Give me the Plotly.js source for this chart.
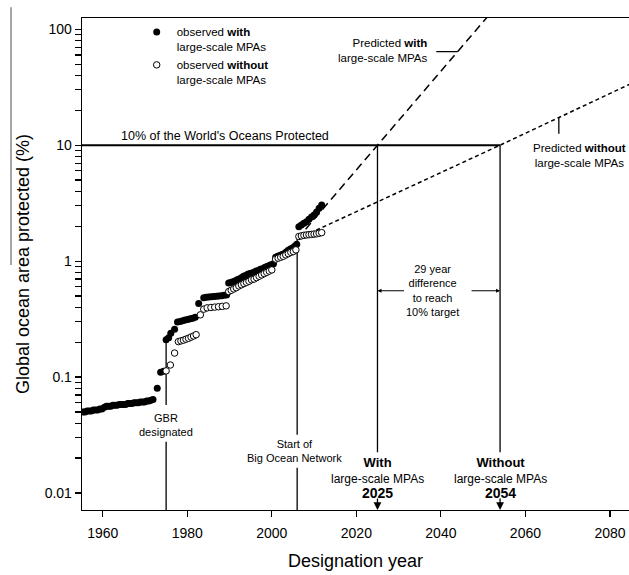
<!DOCTYPE html>
<html>
<head>
<meta charset="utf-8">
<script src="https://cdn.plot.ly/plotly-3.0.1.min.js"></script>
<style>html,body{margin:0;padding:0;background:#fff;}#chart{width:629px;height:575px;}</style>
</head>
<body>
<div id="chart"></div>
<script>
var withYears = [1955.3,1955.8,1956.3,1956.8,1957.3,1957.8,1958.3,1958.8,1959.3,1959.8,1960.4,1960.9,1961.4,1961.9,1962.4,1962.9,1963.4,1963.9,1964.4,1964.9,1965.4,1965.9,1966.4,1966.9,1967.4,1967.9,1968.4,1968.9,1969.4,1969.9,1970.4,1970.9,1971.4,1971.9,1972.9,1973.7,1974.4,1975.0,1975.6,1976.1,1977.0,1977.7,1978.3,1978.9,1979.5,1980.1,1980.7,1981.3,1981.9,1982.7,1983.9,1984.5,1985.1,1985.7,1986.3,1986.9,1987.5,1988.1,1988.7,1989.3,1989.8,1990.3,1990.8,1991.3,1991.8,1992.3,1992.8,1993.3,1993.8,1994.3,1994.8,1995.3,1995.8,1996.3,1996.8,1997.3,1997.8,1998.3,1998.8,1999.3,1999.8,2000.4,2000.9,2001.4,2001.9,2002.4,2002.9,2003.4,2003.9,2004.4,2004.9,2005.4,2005.9,2006.4,2007.0,2007.6,2008.2,2008.8,2009.4,2010.0,2010.6,2011.2,2011.8];
var withVals = [0.050,0.050,0.051,0.051,0.051,0.052,0.052,0.052,0.053,0.053,0.055,0.056,0.056,0.056,0.057,0.057,0.057,0.058,0.058,0.058,0.058,0.059,0.059,0.059,0.060,0.060,0.060,0.061,0.061,0.061,0.062,0.062,0.063,0.064,0.080,0.110,0.112,0.210,0.218,0.238,0.258,0.298,0.302,0.306,0.310,0.313,0.318,0.322,0.328,0.430,0.484,0.488,0.490,0.492,0.495,0.497,0.500,0.503,0.507,0.511,0.646,0.655,0.665,0.675,0.690,0.700,0.720,0.740,0.750,0.770,0.780,0.790,0.800,0.820,0.830,0.850,0.860,0.880,0.900,0.910,0.930,0.950,1.08,1.10,1.12,1.14,1.16,1.20,1.24,1.27,1.30,1.34,1.40,1.98,2.05,2.12,2.18,2.30,2.40,2.50,2.65,2.85,3.05];

var withoutYears = [1975.0,1976.0,1977.0,1977.9,1978.5,1979.1,1979.7,1980.3,1980.9,1981.5,1982.1,1983.1,1983.9,1984.7,1985.6,1986.5,1987.4,1988.3,1989.2,1989.8,1990.4,1991.0,1991.6,1992.2,1992.8,1993.4,1994.0,1994.6,1995.2,1995.8,1996.4,1997.0,1997.6,1998.2,1998.8,1999.4,2000.0,2000.9,2001.5,2002.1,2002.7,2003.3,2003.9,2004.5,2005.1,2005.7,2006.4,2007.0,2007.6,2008.2,2008.8,2009.4,2010.0,2010.6,2011.2,2011.8];
var withoutVals = [0.113,0.127,0.161,0.202,0.205,0.208,0.212,0.216,0.221,0.226,0.232,0.344,0.385,0.395,0.398,0.401,0.404,0.407,0.411,0.546,0.560,0.575,0.590,0.610,0.625,0.640,0.655,0.670,0.690,0.700,0.720,0.740,0.760,0.780,0.800,0.820,0.840,1.04,1.06,1.08,1.10,1.13,1.16,1.19,1.21,1.25,1.63,1.65,1.67,1.68,1.69,1.70,1.71,1.72,1.74,1.76];

// ---- predictions (straight in log space) ----
var predWithYears = [2006, 2025, 2052];
var predWithVals = [1.55, 10, 141];
var predWithoutYears = [2006, 2054, 2085];
var predWithoutVals = [1.55, 10, 34];

// ---- reference events ----
var targetVal = 10;
var gbrYear = 1975, bigOceanYear = 2006, withYear = 2025, withoutYear = 2054;
var xRange = [1955.1, 2084.5];
var yLogRange = [-2.147, 2.097];
var yBottom = Math.pow(10, yLogRange[0]);

// ---- y tick labels ----
var majorText = ['0.01', '0.1', '1', '10', '100'];
var tickVals = [], tickText = [];
[0.01, 0.1, 1, 10].forEach(function (d, i) {
  for (var k = 1; k <= 9; k++) { tickVals.push(d * k); tickText.push(k === 1 ? majorText[i] : ''); }
});
tickVals.push(100); tickText.push('100');

var FONT = 'Liberation Sans, Arial, Helvetica, sans-serif';
var L = Math.log10;

var traces = [
  { x: [xRange[0], withoutYear], y: [targetVal, targetVal], mode: 'lines', line: {color: '#000', width: 2}, showlegend: false, hoverinfo: 'skip' },
  { x: [gbrYear, gbrYear, null, gbrYear, gbrYear], y: [0.21, 0.0575, null, 0.0276, yBottom], mode: 'lines', line: {color: '#000', width: 1.3}, showlegend: false, hoverinfo: 'skip' },
  { x: [bigOceanYear, bigOceanYear, null, bigOceanYear, bigOceanYear], y: [1.55, 0.0318, null, 0.0165, yBottom], mode: 'lines', line: {color: '#000', width: 1.3}, showlegend: false, hoverinfo: 'skip' },
  { x: [withYear, withYear, null, withoutYear, withoutYear], y: [targetVal, 0.0225, null, targetVal, 0.0225], mode: 'lines', line: {color: '#000', width: 1.3}, showlegend: false, hoverinfo: 'skip' },
  { x: predWithYears, y: predWithVals, mode: 'lines', line: {color: '#000', width: 1.5, dash: '8px,5px'}, showlegend: false, hoverinfo: 'skip' },
  { x: predWithoutYears, y: predWithoutVals, mode: 'lines', line: {color: '#000', width: 1.5, dash: '4px,3px'}, showlegend: false, hoverinfo: 'skip' },
  { x: withYears, y: withVals, mode: 'markers', name: 'observed <b>with</b><br>large-scale MPAs',
    marker: {color: '#000', size: 7, line: {width: 0}} },
  { x: withoutYears, y: withoutVals, mode: 'markers', name: 'observed <b>without</b><br>large-scale MPAs',
    marker: {color: '#fff', size: 6.5, line: {color: '#000', width: 1}} }
];

var yDiff = L(0.555);
var annotations = [
  {x: 1989.0, y: L(12.0), text: "10% of the World's Oceans Protected", showarrow: false, font: {size: 12.5}},
  {x: gbrYear, y: L(0.0389), text: 'GBR<br>designated', showarrow: false, font: {size: 11}},
  {x: bigOceanYear - 0.7, y: L(0.0230), text: 'Start of<br>Big Ocean Network', showarrow: false, font: {size: 11}},
  {x: withYear, y: L(0.01343), text: '<b style="font-size:13px">With</b><br>large-scale MPAs<br><b style="font-size:14px">2025</b>', showarrow: false, font: {size: 12}},
  {x: withoutYear, y: L(0.01343), text: '<b style="font-size:13px">Without</b><br>large-scale MPAs<br><b style="font-size:14px">2054</b>', showarrow: false, font: {size: 12}},
  {x: withYear, y: yLogRange[0], ax: 0, ay: -13, text: '', showarrow: true, arrowhead: 2, arrowsize: 1.2, arrowwidth: 1.3, arrowcolor: '#000'},
  {x: withoutYear, y: yLogRange[0], ax: 0, ay: -13, text: '', showarrow: true, arrowhead: 2, arrowsize: 1.2, arrowwidth: 1.3, arrowcolor: '#000'},
  {x: 2038.1, y: yDiff, text: '29 year<br>difference<br>to reach<br>10% target', showarrow: false, font: {size: 11}},
  {x: withYear, y: yDiff, ax: 28, ay: 0, text: '', showarrow: true, arrowhead: 2, arrowsize: 0.8, arrowwidth: 1, arrowcolor: '#000'},
  {x: withoutYear, y: yDiff, ax: -30, ay: 0, text: '', showarrow: true, arrowhead: 2, arrowsize: 0.8, arrowwidth: 1, arrowcolor: '#000'},
  {x: 2037.4, y: L(65.6), xanchor: 'right', align: 'right', text: 'Predicted <b>with</b><br>large-scale MPAs', showarrow: false, font: {size: 11.5}},
  {x: 2044.0, y: L(64.0), ax: -23, ay: 0, text: '', showarrow: true, arrowhead: 0, arrowwidth: 1.3, arrowcolor: '#000'},
  {x: 2072.7, y: L(8.15), text: 'Predicted <b>without</b><br>large-scale MPAs', showarrow: false, font: {size: 11.5}},
  {x: 2067.9, y: L(17.4), ax: 0, ay: 18, text: '', showarrow: true, arrowhead: 0, arrowwidth: 1.3, arrowcolor: '#000'}
];

var layout = {
  width: 629, height: 575,
  margin: {l: 82, r: 0, t: 18, b: 65},
  paper_bgcolor: '#fff', plot_bgcolor: '#fff',
  font: {family: FONT, color: '#000', size: 12},
  showlegend: true,
  legend: {x: 0.1, y: 1.0, xanchor: 'left', yanchor: 'top', bgcolor: 'rgba(0,0,0,0)', font: {size: 11.5}, valign: 'top', tracegroupgap: 2},
  xaxis: {
    range: xRange, type: 'linear', tickmode: 'array', tickvals: [1960, 1980, 2000, 2020, 2040, 2060, 2080],
    ticks: 'outside', ticklen: 6, tickwidth: 1.2, tickcolor: '#000', showgrid: false, zeroline: false,
    showline: true, linecolor: '#000', linewidth: 1.3, mirror: true,
    tickfont: {size: 14}, ticklabelstandoff: 4,
    title: {text: 'Designation year', font: {size: 18}, standoff: 14}
  },
  yaxis: {
    type: 'log', range: yLogRange, tickmode: 'array', tickvals: tickVals, ticktext: tickText,
    ticks: 'outside', ticklen: 6, tickwidth: 1.2, tickcolor: '#000', showgrid: false, zeroline: false,
    showline: true, linecolor: '#000', linewidth: 1.3,
    tickfont: {size: 14},
    title: {text: 'Global ocean area protected (%)', font: {size: 18}, standoff: 10}
  },
  annotations: annotations,
  shapes: [
    {type: 'line', xref: 'paper', yref: 'paper', x0: -0.1298, x1: -0.1298, y0: 1.022, y1: 0.498, line: {color: '#888', width: 1.5}}
  ]
};

Plotly.newPlot('chart', traces, layout, {displayModeBar: false, staticPlot: true});
</script>
</body>
</html>
